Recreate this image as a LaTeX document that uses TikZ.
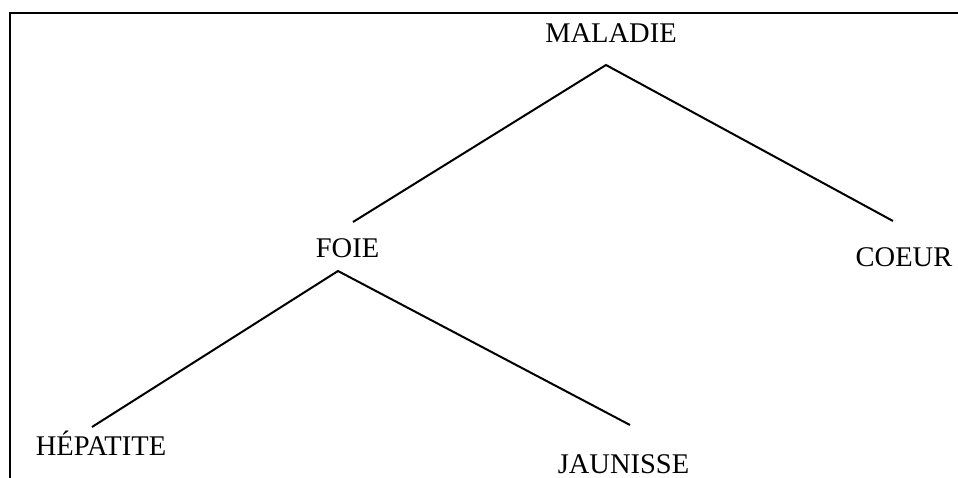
\documentclass[tikz,border=0pt]{standalone}
\usepackage{fontspec}
\setmainfont{Liberation Serif}
\begin{document}
\begin{tikzpicture}[x=1pt,y=-1pt,
  lbl/.style={anchor=base,inner sep=0pt,font=\fontsize{28.5}{30}\selectfont},
  edge/.style={line width=2pt},
  frame/.style={line width=2pt}]
\useasboundingbox (0,0) rectangle (958,478);
\draw[frame] (10,478) -- (10,13) -- (958,13);
\node[lbl] (mal) at (611,43) {MALADIE};
\node[lbl] (foie) at (347.5,258) {FOIE};
\node[lbl] (coeur) at (904,267) {COEUR};
\node[lbl] (hep) at (101,455) {HÉPATITE};
\node[lbl] (jau) at (623.5,473) {JAUNISSE};
\coordinate (malTop) at (606,65);
\coordinate (foieIn) at (353,222);
\coordinate (coeurIn) at (893,221);
\coordinate (foieTop) at (338,271);
\coordinate (hepIn) at (92,427);
\coordinate (jauIn) at (630,425);
\draw[edge] (foieIn) -- (malTop) -- (coeurIn);
\draw[edge] (hepIn) -- (foieTop) -- (jauIn);
\end{tikzpicture}
\end{document}
